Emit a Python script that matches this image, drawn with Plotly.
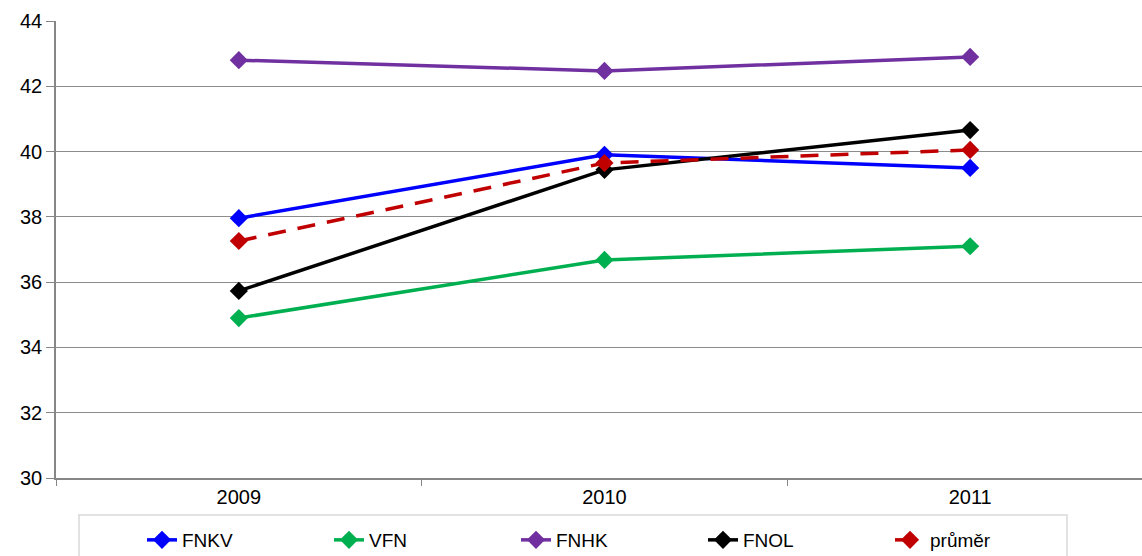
import plotly.graph_objects as go

years = ["2009", "2010", "2011"]
fnkv = [37.96, 39.90, 39.50]
vfn = [34.90, 36.68, 37.10]
fnhk = [42.80, 42.47, 42.90]
fnol = [35.73, 39.44, 40.66]
prumer = [37.26, 39.65, 40.05]

series = [
    ("FNKV", fnkv, "#0000FF", "solid"),
    ("VFN", vfn, "#00B050", "solid"),
    ("FNHK", fnhk, "#7030A0", "solid"),
    ("FNOL", fnol, "#000000", "solid"),
    ("průměr", prumer, "#C00000", "18px,12px"),
]

fig = go.Figure()
for name, vals, color, dash in series:
    fig.add_trace(go.Scatter(
        x=years, y=vals, name=name, mode="lines+markers",
        line=dict(color=color, width=3.5, dash=dash),
        marker=dict(symbol="diamond", size=14, color=color),
    ))

W, H = 1142, 556
L, R, T, B = 56, 0, 21, 78
pw, ph = W - L - R, H - T - B

fig.update_layout(
    width=W, height=H,
    margin=dict(l=L, r=R, t=T, b=B, autoexpand=False),
    plot_bgcolor="white", paper_bgcolor="white",
    font=dict(family="Liberation Sans, Arial, sans-serif", size=19, color="black"),
    showlegend=True,
    legend=dict(
        orientation="h", x=(150 - 8 - L) / pw, xanchor="left",
        y=(478 - 521) / ph, yanchor="top",
        entrywidth=142, font=dict(size=19),
        bgcolor="rgba(0,0,0,0)",
    ),
    shapes=[dict(
        type="rect", xref="paper", yref="paper",
        x0=(79 - L) / pw, x1=(1067 - L) / pw,
        y0=(478 - 570) / ph, y1=(478 - 515) / ph,
        line=dict(color="#D9D9D9", width=1.5), layer="below",
    )],
)

fig.update_xaxes(
    type="category", range=[-0.5, 2.47],
    showgrid=False, showline=True, linecolor="#868686", linewidth=1.5,
    ticks="outside", tickson="boundaries", ticklen=6, tickcolor="#868686",
    tickfont=dict(size=20), automargin=False,
)
fig.update_yaxes(
    range=[30, 44], dtick=2,
    showgrid=True, gridcolor="#8C8C8C", gridwidth=1.2,
    showline=True, linecolor="#868686", linewidth=1.5,
    ticks="outside", ticklen=8, tickcolor="#868686",
    tickfont=dict(size=20), zeroline=False, automargin=False,
)

fig.write_html(
    "out.html",
    config={"displayModeBar": False},
    post_script="document.body.style.margin='0';document.body.style.overflow='hidden';",
)
